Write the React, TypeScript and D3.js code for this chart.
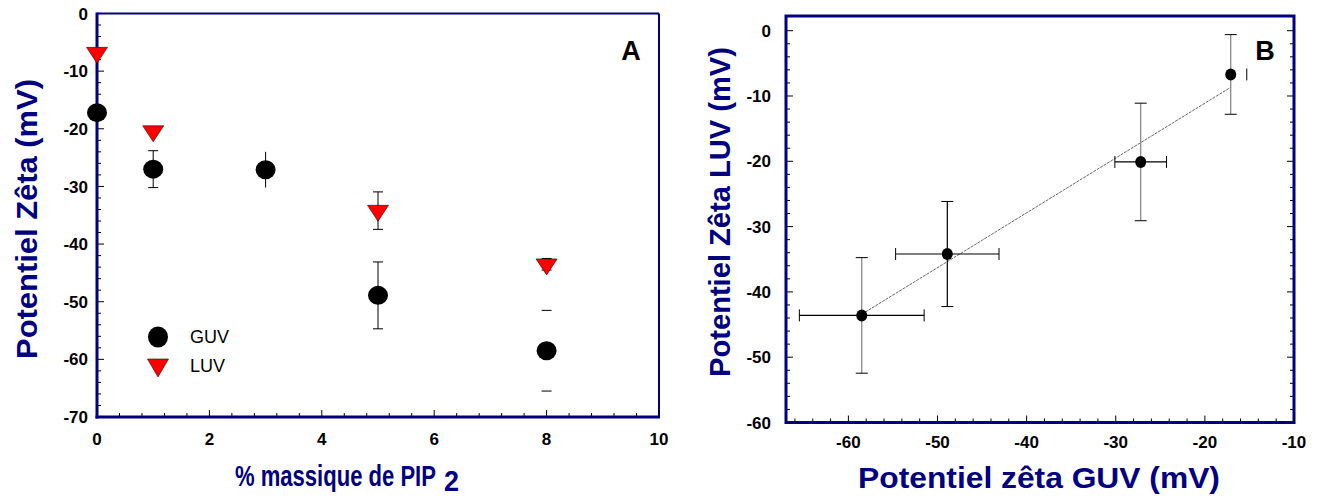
import React, { useEffect, useRef } from "react";
import { select, scaleLinear, range, mean, sum } from "d3";

const navy = "#000080";
const tickFont = "'Liberation Sans', Arial, sans-serif";

// panel A : zeta potential vs % PIP2
const guvPct = [0, 1, 3, 5, 8];
const guvZeta = [-17.2, -27, -27.1, -48.9, -58.5];
const guvErr = [0, 3.2, 3.1, 5.8, 7];
const guvErrKind = ["none", "full", "bar", "full", "caps"];
const luvPct = [0, 1, 5, 8];
const luvZeta = [-6.8, -20.4, -34.2, -43.5];
const luvErr = [0, 0, 3.25, 1];
const luvErrKind = ["none", "none", "full", "caps"];
const xTicksA = [0, 2, 4, 6, 8, 10];
const yTicksA = [0, -10, -20, -30, -40, -50, -60, -70];

// panel B : LUV vs GUV
const guvB = [-58.5, -48.9, -27.2, -17.1];
const luvB = [-43.6, -34.2, -20.1, -6.7];
const guvBErrLo = [7, 5.8, 2.9, 1.8];
const guvBErrHi = [7, 5.8, 2.9, 1.8];
const guvBErrShow = ["full", "full", "full", "right"];
const luvBErr = [8.85, 8.05, 9, 6.1];
const luvBErrColor = ["#808080", "#000000", "#808080", "#808080"];
const xTicksB = [-60, -50, -40, -30, -20, -10];
const yTicksB = [0, -10, -20, -30, -40, -50, -60];

const triPath = (cx: number, cy: number, w: number, h: number) =>
  `M${cx - w / 2},${cy - h / 3}L${cx + w / 2},${cy - h / 3}L${cx},${cy + (2 * h) / 3}Z`;

export default function App() {
  const svgRef = useRef<SVGSVGElement | null>(null);

  useEffect(() => {
    const svg = select(svgRef.current);
    svg.selectAll("*").remove();

    // title text squeezed/stretched to the width seen in the picture
    const title = (g: any, label: string, x: number, y: number, w: number, rot: number, anchor = "middle") => {
      const t = g.append("text").attr("text-anchor", anchor)
        .attr("font-family", tickFont).attr("font-weight", "bold").attr("font-size", 29).attr("fill", navy)
        .text(label);
      const len = (t.node() as SVGTextElement).getComputedTextLength() || w;
      t.attr("transform", `translate(${x},${y}) rotate(${rot}) scale(${w / len},1)`);
      return t;
    };

    // ---------- panel A ----------
    const xA = scaleLinear().domain([0, 10]).range([97, 659]);
    const yA = scaleLinear().domain([0, -70]).range([13.5, 417]);
    const gA = svg.append("g");

    // frame
    gA.append("line").attr("x1", 97).attr("x2", 659).attr("y1", 13.5).attr("y2", 13.5)
      .attr("stroke", navy).attr("stroke-width", 2);
    gA.append("line").attr("x1", 659).attr("x2", 659).attr("y1", 13.5).attr("y2", 417)
      .attr("stroke", navy).attr("stroke-width", 2);

    // ticks
    range(0, 36).forEach((i) => {
      const v = -i * 2;
      const major = i % 5 === 0;
      gA.append("line").attr("x1", 97).attr("x2", 97 + (major ? 7 : 4))
        .attr("y1", yA(v)).attr("y2", yA(v)).attr("stroke", "#000").attr("stroke-width", 1);
    });
    range(0, 26).forEach((i) => {
      const v = i * 0.4;
      const major = i % 5 === 0;
      gA.append("line").attr("x1", xA(v)).attr("x2", xA(v))
        .attr("y1", 417).attr("y2", 417 - (major ? 7 : 4)).attr("stroke", "#000").attr("stroke-width", 1);
    });
    gA.append("line").attr("x1", 97).attr("x2", 97).attr("y1", 12.5).attr("y2", 418.5)
      .attr("stroke", navy).attr("stroke-width", 3);
    gA.append("line").attr("x1", 95.5).attr("x2", 660).attr("y1", 417).attr("y2", 417)
      .attr("stroke", navy).attr("stroke-width", 3);

    gA.selectAll(".ylab").data(yTicksA).join("text")
      .attr("x", 88).attr("y", (d) => yA(d)).attr("dy", "0.36em")
      .attr("text-anchor", "end").attr("font-family", tickFont).attr("font-weight", "bold")
      .attr("font-size", 17).text((d) => d);
    gA.selectAll(".xlab").data(xTicksA).join("text")
      .attr("x", (d) => xA(d)).attr("y", 445)
      .attr("text-anchor", "middle").attr("font-family", tickFont).attr("font-weight", "bold")
      .attr("font-size", 17).text((d) => d);

    // error bars
    const errA = (x: number, y: number, e: number, kind: string) => {
      if (kind === "none") return;
      if (kind !== "caps") {
        gA.append("line").attr("x1", xA(x)).attr("x2", xA(x)).attr("y1", yA(y + e)).attr("y2", yA(y - e))
          .attr("stroke", "#000").attr("stroke-width", 1);
      }
      if (kind !== "bar") {
        [y + e, y - e].forEach((v) =>
          gA.append("line").attr("x1", xA(x) - 5).attr("x2", xA(x) + 5).attr("y1", yA(v)).attr("y2", yA(v))
            .attr("stroke", "#000").attr("stroke-width", 1)
        );
      }
    };
    guvPct.forEach((p, i) => errA(p, guvZeta[i], guvErr[i], guvErrKind[i]));
    luvPct.forEach((p, i) => errA(p, luvZeta[i], luvErr[i], luvErrKind[i]));

    gA.selectAll(".guv").data(guvPct).join("ellipse")
      .attr("cx", (d) => xA(d)).attr("cy", (d, i) => yA(guvZeta[i]))
      .attr("rx", 10).attr("ry", 9.5).attr("fill", "#000");
    gA.selectAll(".luv").data(luvPct).join("path")
      .attr("d", (d, i) => triPath(xA(d), yA(luvZeta[i]), 21, 16))
      .attr("fill", "#ff0000").attr("stroke", "#300").attr("stroke-width", 0.6);

    // legend
    gA.append("ellipse").attr("cx", 158).attr("cy", 337).attr("rx", 10).attr("ry", 10.5).attr("fill", "#000");
    gA.append("path").attr("d", triPath(158, 365, 21, 18)).attr("fill", "#ff0000")
      .attr("stroke", "#300").attr("stroke-width", 0.6);
    gA.append("text").attr("x", 190).attr("y", 343).attr("font-family", tickFont)
      .attr("font-size", 18).text("GUV");
    gA.append("text").attr("x", 190).attr("y", 372).attr("font-family", tickFont)
      .attr("font-size", 18).text("LUV");

    gA.append("text").attr("x", 631).attr("y", 60).attr("text-anchor", "middle")
      .attr("font-family", tickFont).attr("font-weight", "bold").attr("font-size", 27).text("A");

    // axis titles
    title(gA, "Potentiel Zêta (mV)", 37, 219, 280, -90);
    title(gA, "% massique de PIP", 235, 486, 201, 0, "start");
    title(gA, "2", 444, 491, 15, 0, "start");

    // ---------- panel B ----------
    const xB = scaleLinear().domain([-67, -10]).range([786, 1294]);
    const yB = scaleLinear().domain([2.25, -60]).range([16, 422.5]);
    const gB = svg.append("g");

    range(0, 31).forEach((i) => {
      const v = -i * 2;
      const major = i % 5 === 0;
      const len = major ? 7 : 4;
      gB.append("line").attr("x1", 786).attr("x2", 786 + len).attr("y1", yB(v)).attr("y2", yB(v))
        .attr("stroke", "#000").attr("stroke-width", 1);
      gB.append("line").attr("x1", 1294).attr("x2", 1294 - len).attr("y1", yB(v)).attr("y2", yB(v))
        .attr("stroke", "#000").attr("stroke-width", 1);
    });
    range(0, 29).forEach((i) => {
      const v = -66 + i * 2;
      const major = v % 10 === 0;
      gB.append("line").attr("x1", xB(v)).attr("x2", xB(v)).attr("y1", 422.5).attr("y2", 422.5 - (major ? 7 : 4))
        .attr("stroke", "#000").attr("stroke-width", 1);
    });
    gB.append("rect").attr("x", 786).attr("y", 16).attr("width", 508).attr("height", 406.5)
      .attr("fill", "none").attr("stroke", navy).attr("stroke-width", 3);

    gB.selectAll(".ylab").data(yTicksB).join("text")
      .attr("x", 771).attr("y", (d) => yB(d)).attr("dy", "0.36em")
      .attr("text-anchor", "end").attr("font-family", tickFont).attr("font-weight", "bold")
      .attr("font-size", 17).text((d) => d);
    gB.selectAll(".xlab").data(xTicksB).join("text")
      .attr("x", (d) => xB(d)).attr("y", 448)
      .attr("text-anchor", "middle").attr("font-family", tickFont).attr("font-weight", "bold")
      .attr("font-size", 17).text((d) => d);

    // linear fit
    const mx = mean(guvB)!;
    const my = mean(luvB)!;
    const slope =
      sum(guvB, (x, i) => (x - mx) * (luvB[i] - my)) / sum(guvB, (x) => (x - mx) * (x - mx));
    const icpt = my - slope * mx;
    const x0 = Math.min(...guvB);
    const x1 = Math.max(...guvB);
    gB.append("line").attr("x1", xB(x0)).attr("y1", yB(icpt + slope * x0))
      .attr("x2", xB(x1)).attr("y2", yB(icpt + slope * x1))
      .attr("stroke", "#555").attr("stroke-width", 0.9).attr("stroke-dasharray", "3,1");

    guvB.forEach((g, i) => {
      const l = luvB[i];
      // vertical
      gB.append("line").attr("x1", xB(g)).attr("x2", xB(g)).attr("y1", yB(l + luvBErr[i])).attr("y2", yB(l - luvBErr[i]))
        .attr("stroke", luvBErrColor[i]).attr("stroke-width", 1.2);
      [l + luvBErr[i], l - luvBErr[i]].forEach((v) =>
        gB.append("line").attr("x1", xB(g) - 6).attr("x2", xB(g) + 6).attr("y1", yB(v)).attr("y2", yB(v))
          .attr("stroke", "#000").attr("stroke-width", 1)
      );
      // horizontal
      if (guvBErrShow[i] === "full") {
        gB.append("line").attr("x1", xB(g - guvBErrLo[i])).attr("x2", xB(g + guvBErrHi[i]))
          .attr("y1", yB(l)).attr("y2", yB(l)).attr("stroke", "#000").attr("stroke-width", 1.2);
        gB.append("line").attr("x1", xB(g - guvBErrLo[i])).attr("x2", xB(g - guvBErrLo[i]))
          .attr("y1", yB(l) - 6).attr("y2", yB(l) + 6).attr("stroke", "#000").attr("stroke-width", 1);
      }
      gB.append("line").attr("x1", xB(g + guvBErrHi[i])).attr("x2", xB(g + guvBErrHi[i]))
        .attr("y1", yB(l) - 6).attr("y2", yB(l) + 6).attr("stroke", "#000").attr("stroke-width", 1);
    });

    gB.selectAll(".pt").data(guvB).join("ellipse")
      .attr("cx", (d) => xB(d)).attr("cy", (d, i) => yB(luvB[i]))
      .attr("rx", 5.5).attr("ry", 6).attr("fill", "#000");

    gB.append("text").attr("x", 1265).attr("y", 60).attr("text-anchor", "middle")
      .attr("font-family", tickFont).attr("font-weight", "bold").attr("font-size", 27).text("B");

    title(gB, "Potentiel Zêta LUV (mV)", 730, 212, 330, -90);
    title(gB, "Potentiel zêta GUV (mV)", 1039, 488, 362, 0);
  }, []);

  return (
    <svg
      ref={svgRef}
      width={1327}
      height={501}
      style={{ position: "absolute", left: 0, top: 0, background: "#fff" }}
    />
  );
}
